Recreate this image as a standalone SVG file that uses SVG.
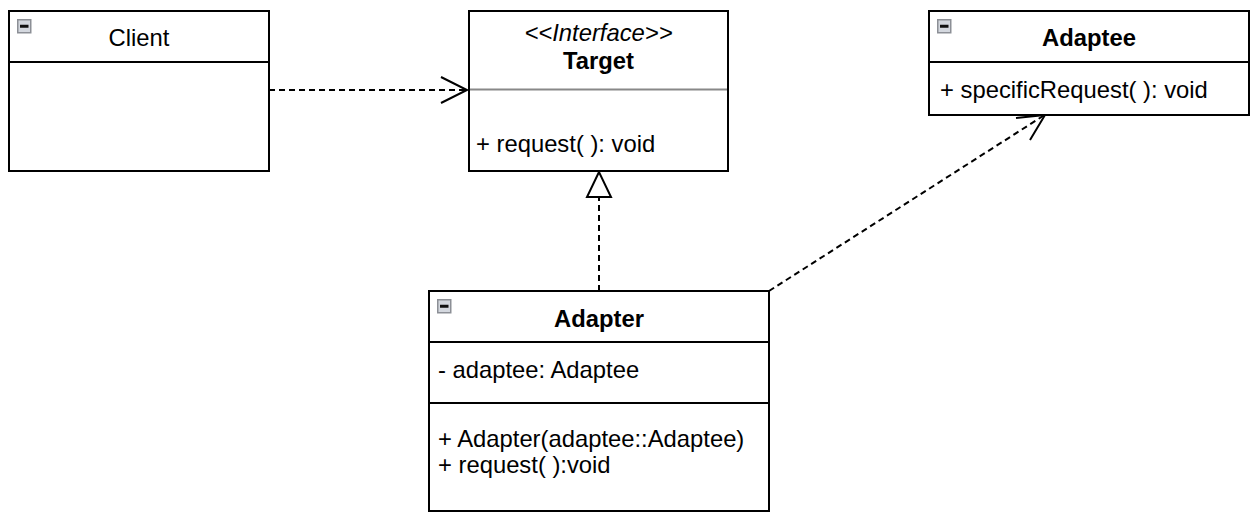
<svg xmlns="http://www.w3.org/2000/svg" width="1260" height="524" viewBox="0 0 1260 524">
<style>
.box{fill:#fff;stroke:#000;stroke-width:2}
.div{stroke:#000;stroke-width:2}
.t{font-family:"Liberation Sans",Arial,sans-serif;font-size:23.8px;fill:#000}
.c{text-anchor:middle}
.b{font-weight:bold}
.i{font-style:italic}
.dash{fill:none;stroke:#000;stroke-width:2;stroke-dasharray:6 4}
.head{fill:none;stroke:#000;stroke-width:2}
.ico{fill:#d4d8df;stroke:#8c8f96;stroke-width:1.5}
.icl{stroke:#111;stroke-width:3}
</style>
<defs>
<g id="icon"><rect class="ico" x="0.75" y="0.75" width="13" height="13"/><line class="icl" x1="3" y1="7.25" x2="11.5" y2="7.25"/></g>
</defs>
<g id="connectors">
<line class="dash" x1="269" y1="90" x2="466" y2="90"/>
<polyline class="head" points="441,77 467,90 441,103"/>
<line class="dash" x1="599" y1="291" x2="599" y2="197"/>
<polygon points="599,172 587,197 611,197" fill="#fff" stroke="#000" stroke-width="2"/>
<line class="dash" x1="769" y1="291" x2="1043" y2="116"/>
<polyline class="head" points="1016,118 1045,115 1030,140"/>
</g>
<g id="client">
<rect class="box" x="9" y="11" width="260" height="160"/>
<line class="div" x1="9" y1="62" x2="269" y2="62"/>
<use href="#icon" x="17" y="19"/>
<text class="t c" x="139" y="46">Client</text>
</g>
<g id="target">
<rect class="box" x="469" y="11" width="259" height="160"/>
<line x1="470" y1="89.5" x2="727" y2="89.5" stroke="#888" stroke-width="2"/>
<text class="t c i" x="598.5" y="41">&lt;&lt;Interface&gt;&gt;</text>
<text class="t c b" x="598.5" y="69">Target</text>
<text class="t" x="476" y="152">+ request( ): void</text>
</g>
<g id="adaptee">
<rect class="box" x="929" y="11" width="320" height="104"/>
<line class="div" x1="929" y1="62" x2="1249" y2="62"/>
<use href="#icon" x="937" y="19"/>
<text class="t c b" x="1089" y="46">Adaptee</text>
<text class="t" x="940" y="98">+ specificRequest( ): void</text>
</g>
<g id="adapter">
<rect class="box" x="429" y="291" width="340" height="220"/>
<line class="div" x1="429" y1="342" x2="769" y2="342"/>
<line class="div" x1="429" y1="403" x2="769" y2="403"/>
<use href="#icon" x="437" y="299"/>
<text class="t c b" x="599" y="327">Adapter</text>
<text class="t" x="438" y="378">- adaptee: Adaptee</text>
<text class="t" x="438" y="447">+ Adapter(adaptee::Adaptee)</text>
<text class="t" x="438" y="473">+ request( ):void</text>
</g>
</svg>
